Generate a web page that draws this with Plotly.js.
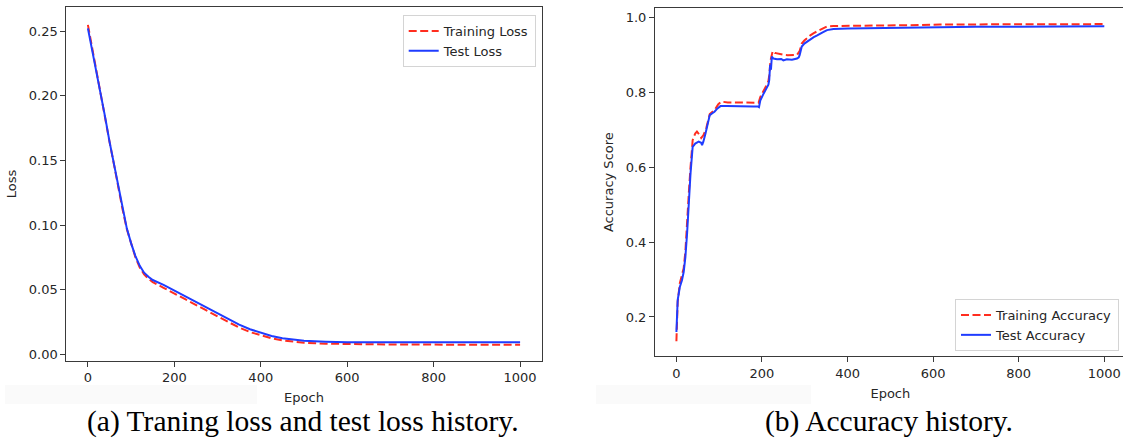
<!DOCTYPE html>
<html>
<head>
<meta charset="utf-8">
<script src="https://cdn.plot.ly/plotly-3.0.1.min.js"></script>
<style>
html,body{margin:0;padding:0;overflow:hidden;background:#fff;}
#chart{width:1130px;height:439px;}
</style>
</head>
<body>
<div id="chart"></div>
<script>
// ---- Data ----
const lossEpochs = [0,10,20,30,40,50,60,70,80,90,100,110,120,130,140,150,175,200,225,250,275,300,325,350,375,400,425,450,475,500,550,600,700,800,900,1000];
const trainLoss = [0.2550,0.2365,0.2185,0.2010,0.1835,0.1645,0.1475,0.1295,0.1125,0.0970,0.0853,0.0750,0.0672,0.0618,0.0585,0.0558,0.0515,0.0472,0.0427,0.0383,0.0338,0.0294,0.0250,0.0207,0.0172,0.0145,0.0124,0.0108,0.0097,0.0089,0.0082,0.0079,0.0076,0.0075,0.0074,0.0074];
const testLoss = [0.2523,0.2356,0.2180,0.2007,0.1834,0.1646,0.1478,0.1298,0.1130,0.0975,0.0859,0.0760,0.0685,0.0632,0.0600,0.0575,0.0537,0.0493,0.0448,0.0405,0.0362,0.0320,0.0274,0.0230,0.0194,0.0165,0.0142,0.0125,0.0113,0.0105,0.0098,0.0094,0.0093,0.0093,0.0093,0.0093];

const accEpochsTrain = [0,3,8,13,17,21,25,29,33,38,44,48,53,58,63,70,78,84,89,98,105,120,150,180,192,196,200,204,208,212,215,217,220,225,230,240,250,260,270,282,288,293,299,305,313,321,328,336,344,352,367,400,461,540,616,700,800,900,1000];
const trainAcc = [0.135,0.24,0.29,0.31,0.33,0.375,0.44,0.53,0.6,0.672,0.69,0.695,0.688,0.678,0.685,0.705,0.742,0.748,0.752,0.768,0.775,0.773,0.772,0.772,0.772,0.787,0.795,0.805,0.812,0.822,0.83,0.845,0.885,0.91,0.905,0.902,0.9,0.899,0.9,0.9,0.91,0.93,0.938,0.945,0.952,0.958,0.962,0.967,0.972,0.976,0.977,0.977,0.978,0.979,0.981,0.981,0.981,0.982,0.982];
const accEpochsTest = [0,3,8,13,17,21,25,29,33,38,44,52,58,60,63,68,73,78,84,89,96,103,118,140,160,180,190,193,196,200,204,208,212,215,217,219,221,223,227,235,245,250,258,270,282,286,288,293,299,305,313,321,328,336,344,352,360,367,400,461,540,616,700,800,900,1000];
const testAcc = [0.16,0.245,0.28,0.298,0.32,0.36,0.423,0.512,0.583,0.654,0.663,0.668,0.665,0.659,0.668,0.69,0.715,0.739,0.744,0.748,0.757,0.763,0.763,0.762,0.762,0.762,0.762,0.76,0.778,0.79,0.797,0.805,0.813,0.82,0.833,0.873,0.86,0.895,0.89,0.888,0.889,0.885,0.888,0.887,0.89,0.893,0.899,0.922,0.93,0.935,0.94,0.947,0.951,0.957,0.961,0.966,0.968,0.969,0.970,0.971,0.972,0.975,0.975,0.975,0.975,0.976];

const xTicks = [0,200,400,600,800,1000];
const lossTicks = [0,0.05,0.10,0.15,0.20,0.25];
const accTicks = [0.2,0.4,0.6,0.8,1.0];
const captionA = "(a) Traning loss and test loss history.";
const captionB = "(b) Accuracy history.";

// ---- Styling ----
const W = 1130, H = 439;
const RED = '#ff2d1f', BLUE = '#1f3cff';
const FONT = 'DejaVu Sans, sans-serif';
const SERIF = 'Liberation Serif, Times New Roman, serif';
const px = v => v / W, py = v => 1 - v / H;

function axisBase() {
  return {
    showline: true, mirror: true, linecolor: '#3a3a3a', linewidth: 1,
    ticks: 'outside', ticklen: 5, tickwidth: 1, tickcolor: '#3a3a3a',
    showgrid: false, zeroline: false, automargin: false,
    tickfont: {family: FONT, size: 13, color: '#262626'},
    title: {font: {family: FONT, size: 13, color: '#262626'}}
  };
}

const traces = [
  {x: lossEpochs, y: trainLoss, name: 'Training Loss', type: 'scatter', mode: 'lines',
   line: {color: RED, width: 2, dash: '8px,3.5px'}, xaxis: 'x', yaxis: 'y', legend: 'legend'},
  {x: lossEpochs, y: testLoss, name: 'Test Loss', type: 'scatter', mode: 'lines',
   line: {color: BLUE, width: 2}, xaxis: 'x', yaxis: 'y', legend: 'legend'},
  {x: accEpochsTrain, y: trainAcc, name: 'Training Accuracy', type: 'scatter', mode: 'lines',
   line: {color: RED, width: 2, dash: '8px,3.5px'}, xaxis: 'x2', yaxis: 'y2', legend: 'legend2'},
  {x: accEpochsTest, y: testAcc, name: 'Test Accuracy', type: 'scatter', mode: 'lines',
   line: {color: BLUE, width: 2}, xaxis: 'x2', yaxis: 'y2', legend: 'legend2'}
];

const xa = Object.assign(axisBase(), {
  domain: [px(66.3), px(541.7)], range: [-50, 1050], anchor: 'y',
  tickvals: xTicks, ticktext: xTicks.map(String)
});
xa.title.text = 'Epoch'; xa.title.standoff = 8;
const ya = Object.assign(axisBase(), {
  domain: [py(360.7), py(7.3)], range: [-0.00495, 0.2686], anchor: 'x',
  tickvals: lossTicks, ticktext: lossTicks.map(v => v.toFixed(2))
});
ya.title.text = 'Loss'; ya.title.standoff = 9;
const xa2 = Object.assign(axisBase(), {
  domain: [px(655), px(1125.7)], range: [-50, 1050], anchor: 'y2',
  tickvals: xTicks, ticktext: xTicks.map(String)
});
xa2.title.text = 'Epoch'; xa2.title.standoff = 8;
const ya2 = Object.assign(axisBase(), {
  domain: [py(356.3), py(8)], range: [0.095, 1.025], anchor: 'x2',
  tickvals: accTicks, ticktext: accTicks.map(v => v.toFixed(1))
});
ya2.title.text = 'Accuracy Score'; ya2.title.standoff = 9;

const legendStyle = {
  bgcolor: 'rgba(255,255,255,0.85)', bordercolor: '#d4d4d4', borderwidth: 1,
  font: {family: FONT, size: 13, color: '#262626'}, tracegroupgap: 0
};

const layout = {
  width: W, height: H, margin: {l: 0, r: 0, t: 0, b: 0},
  paper_bgcolor: '#ffffff', plot_bgcolor: '#ffffff',
  showlegend: true,
  xaxis: xa, yaxis: ya, xaxis2: xa2, yaxis2: ya2,
  legend: Object.assign({x: px(535.7), y: py(15), xanchor: 'right', yanchor: 'top'}, legendStyle),
  legend2: Object.assign({x: px(1119), y: py(351), xanchor: 'right', yanchor: 'bottom'}, legendStyle),
  shapes: [
    {type: 'rect', xref: 'paper', yref: 'paper', x0: px(5), x1: px(257), y0: py(404), y1: py(385),
     fillcolor: '#fafafa', line: {width: 0}, layer: 'below'},
    {type: 'rect', xref: 'paper', yref: 'paper', x0: px(596), x1: px(811), y0: py(404), y1: py(385),
     fillcolor: '#fafafa', line: {width: 0}, layer: 'below'}
  ],
  annotations: [
    {text: captionA, xref: 'paper', yref: 'paper', x: px(302.5), y: py(421), xanchor: 'center', yanchor: 'middle',
     showarrow: false, font: {family: SERIF, size: 29.5, color: '#000'}},
    {text: captionB, xref: 'paper', yref: 'paper', x: px(889), y: py(421), xanchor: 'center', yanchor: 'middle',
     showarrow: false, font: {family: SERIF, size: 29.5, color: '#000'}}
  ]
};

Plotly.newPlot('chart', traces, layout, {displayModeBar: false, staticPlot: true});
</script>
</body>
</html>
